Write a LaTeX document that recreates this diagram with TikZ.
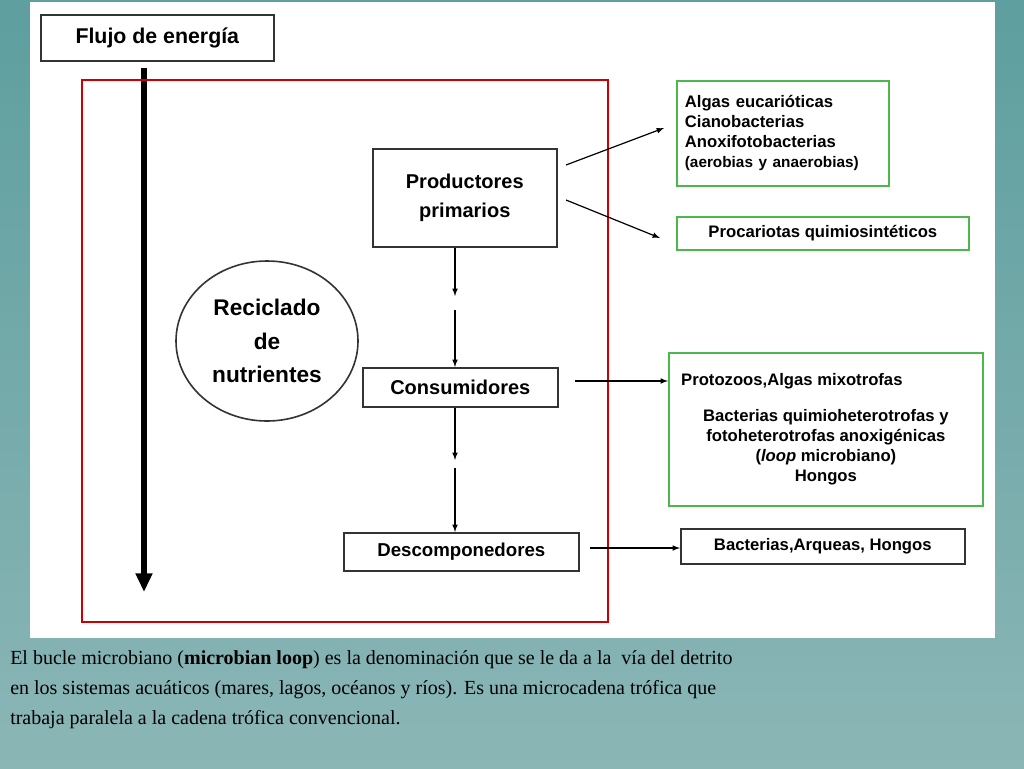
\documentclass[tikz,border=0pt]{standalone}
\usetikzlibrary{arrows.meta,shapes.geometric}
\usepackage{fontspec}
\setmainfont{Liberation Serif}
\newfontfamily\dsans{Liberation Sans}
\begin{document}
\begin{tikzpicture}[x=0.75pt,y=-0.75pt,
  bx/.style={draw=black!80,line width=1.2pt,fill=white,inner sep=0pt,font=\dsans\bfseries},
  gb/.style={draw=green!60!black!70,line width=1.3pt,fill=white,inner sep=0pt,font=\dsans\bfseries\fontsize{12.5}{15}\selectfont},
  ar/.style={-latex,line width=0.9pt}]
\useasboundingbox (0,0) rectangle (1024,768);
\shade[top color=teal!60!cyan!40!gray!90, bottom color=teal!40!cyan!30!gray!70] (0,0) rectangle (1024,768);
\fill[white] (30,2) rectangle (995,638);
\node[bx,minimum width=174.75pt,minimum height=34.5pt,anchor=north west,font=\dsans\bfseries\fontsize{16}{18}\selectfont] (flujo) at (40,14) {Flujo de energía};
\coordinate (ftop) at (144,68); \coordinate (fbot) at (144,592);
\draw[-{Triangle[width=12pt,length=14pt]},line width=4pt] (ftop) -- (fbot);
\draw[red!80!black,line width=1.8pt] (82,80) rectangle (608,622);
\node[bx,minimum width=138pt,minimum height=73.5pt,anchor=north west,align=center,font=\dsans\bfseries\fontsize{15}{22}\selectfont] (prod) at (372,148) {Productores\\primarios};
\node[draw=black!80,line width=1.2pt,ellipse,minimum width=136.5pt,minimum height=120pt,align=center,font=\dsans\bfseries\fontsize{17}{25}\selectfont] (rec) at (267,341) {Reciclado\\de\\nutrientes};
\node[bx,minimum width=146.25pt,minimum height=29.25pt,anchor=north west,font=\dsans\bfseries\fontsize{15}{18}\selectfont] (cons) at (362,367) {Consumidores};
\node[bx,minimum width=176.25pt,minimum height=28.5pt,anchor=north west,font=\dsans\bfseries\fontsize{14}{17}\selectfont] (desc) at (343,532) {Descomponedores};
\coordinate (m1) at (455,296); \coordinate (m2) at (455,310);
\coordinate (m3) at (455,460); \coordinate (m4) at (455,468);
\draw[ar] (prod.south -| m1) -- (m1);
\draw[ar] (m2) -- (cons.north -| m2);
\draw[ar] (cons.south -| m3) -- (m3);
\draw[ar] (m4) -- (desc.north -| m4);
\node[gb,minimum width=159pt,minimum height=78.75pt,anchor=north west,align=left,text width=147pt] (g1) at (676,80) {Algas eucarióticas\\Cianobacterias\\Anoxifotobacterias\\{\fontsize{11.5}{15}\selectfont(aerobias y anaerobias)}};
\node[gb,minimum width=219pt,minimum height=24.75pt,anchor=north west] (g2) at (676,216) {Procariotas quimiosintéticos};
\node[gb,minimum width=235.5pt,minimum height=114.75pt,anchor=north west,align=center] (g3) at (668,352) {\makebox[217pt][l]{Protozoos,Algas mixotrofas}\\[12pt]Bacterias quimioheterotrofas y\\fotoheterotrofas anoxigénicas\\(\textit{loop} microbiano)\\Hongos};
\node[bx,minimum width=213pt,minimum height=26.25pt,anchor=north west,font=\dsans\bfseries\fontsize{12.5}{15}\selectfont] (g4) at (680,528) {Bacterias,Arqueas, Hongos};
\coordinate (a1) at (566,165); \coordinate (a2) at (566,200);
\draw[ar] (a1) -- (664,128) coordinate (b1);
\draw[ar] (a2) -- (660,238) coordinate (b2);
\coordinate (a3) at (575,381); \draw[ar] (a3) -- (g3.west |- a3);
\coordinate (a4) at (590,548); \draw[ar] (a4) -- (g4.west |- a4);
\node[anchor=north west,align=left,font=\fontsize{15}{22.5}\selectfont,inner sep=0pt] (cap) at (10,650) {El bucle microbiano (\textbf{microbian loop}) es la denominación que se le da a la\ \ vía del detrito\\en los sistemas acuáticos (mares, lagos, océanos y ríos). Es una microcadena trófica que\\trabaja paralela a la cadena trófica convencional.};
\end{tikzpicture}
\end{document}
